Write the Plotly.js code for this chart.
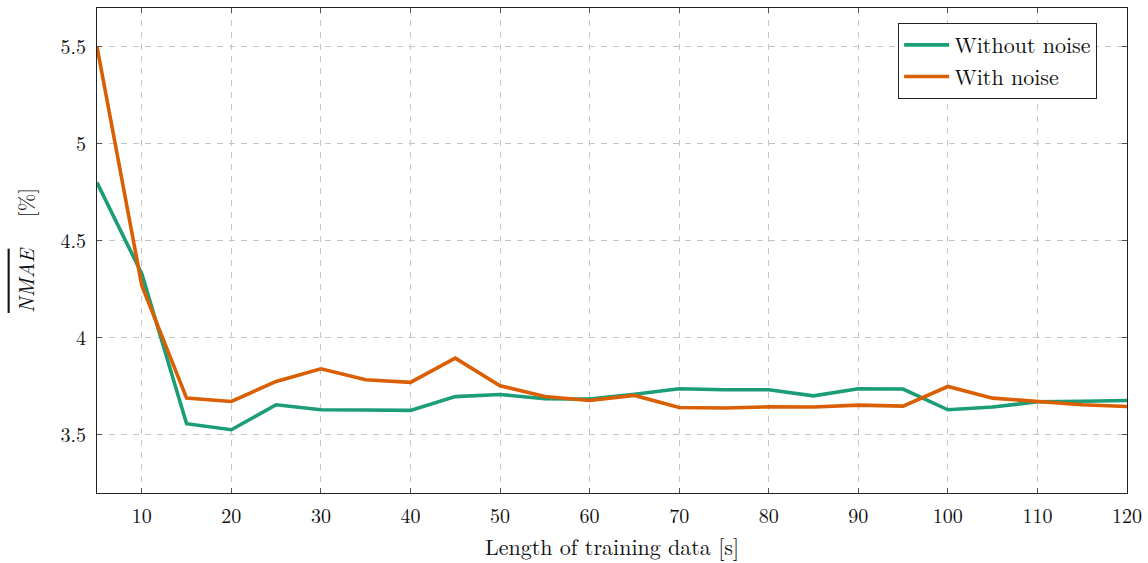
<!DOCTYPE html>
<html>
<head>
<meta charset="utf-8">
<script src="https://cdn.plot.ly/plotly-3.0.1.min.js"></script>
<style>
  html, body { margin: 0; padding: 0; background: #fff; }
  #chart { width: 1148px; height: 563px; }
</style>
</head>
<body>
<div id="chart"></div>
<script>
// Training length in seconds
const trainLength = [5, 10, 15, 20, 25, 30, 35, 40, 45, 50, 55, 60, 65, 70, 75, 80, 85, 90, 95, 100, 105, 110, 115, 120];

// Mean NMAE [%] per training length
const nmaeWithoutNoise = [4.80, 4.33, 3.557, 3.526, 3.655, 3.629, 3.628, 3.626, 3.697, 3.708, 3.686, 3.684, 3.709, 3.737, 3.732, 3.732, 3.701, 3.737, 3.736, 3.629, 3.643, 3.670, 3.673, 3.677];
const nmaeWithNoise    = [5.50, 4.27, 3.689, 3.672, 3.775, 3.840, 3.784, 3.770, 3.895, 3.753, 3.697, 3.677, 3.703, 3.641, 3.638, 3.644, 3.643, 3.653, 3.648, 3.749, 3.689, 3.672, 3.655, 3.646];

const seriesNames = ['Without noise', 'With noise'];
const xTicks = [10, 20, 30, 40, 50, 60, 70, 80, 90, 100, 110, 120];
const yTicks = [3.5, 4, 4.5, 5, 5.5];

const FONT = '"Latin Modern Roman", "Liberation Serif", "DejaVu Serif", serif';

const traces = [
  { x: trainLength, y: nmaeWithoutNoise, name: seriesNames[0], mode: 'lines',
    line: { color: '#1b9e77', width: 3.6 } },
  { x: trainLength, y: nmaeWithNoise, name: seriesNames[1], mode: 'lines',
    line: { color: '#d95f02', width: 3.6 } }
];

const axisCommon = {
  showline: true, mirror: 'ticks', linecolor: '#222', linewidth: 1,
  ticks: 'inside', ticklen: 5, tickcolor: '#555', tickwidth: 1,
  showgrid: true, gridcolor: '#c4c4c4', griddash: '6px,6px', gridwidth: 1,
  zeroline: false,
  tickfont: { family: FONT, size: 20, color: '#111' }
};

const layout = {
  width: 1148, height: 563,
  margin: { l: 97, r: 21, t: 8, b: 70 },
  paper_bgcolor: '#fff', plot_bgcolor: '#fff',
  font: { family: FONT, color: '#111' },
  showlegend: true,
  legend: {
    x: 0.971, y: 0.969, xanchor: 'right', yanchor: 'top',
    bordercolor: '#222', borderwidth: 1, bgcolor: '#fff',
    font: { family: FONT, size: 22, color: '#111' },
    itemwidth: 45,
    tracegroupgap: 0
  },
  xaxis: Object.assign({}, axisCommon, {
    range: [5, 120], tickvals: xTicks, ticktext: xTicks.map(String),
    ticklabelstandoff: 5,
    title: { text: 'Length of training data [s]', standoff: 11,
             font: { family: FONT, size: 22, color: '#111' } }
  }),
  yaxis: Object.assign({}, axisCommon, {
    range: [3.2, 5.7], tickvals: yTicks, ticktext: yTicks.map(String),
    ticklabelstandoff: 6,
    title: { text: '<span style="text-decoration:overline"><i>NMAE</i></span>\u00a0\u00a0\u00a0[%]', standoff: 20,
             font: { family: FONT, size: 21, color: '#111' } }
  })
};

Plotly.newPlot('chart', traces, layout, { displayModeBar: false, staticPlot: true });
</script>
</body>
</html>
